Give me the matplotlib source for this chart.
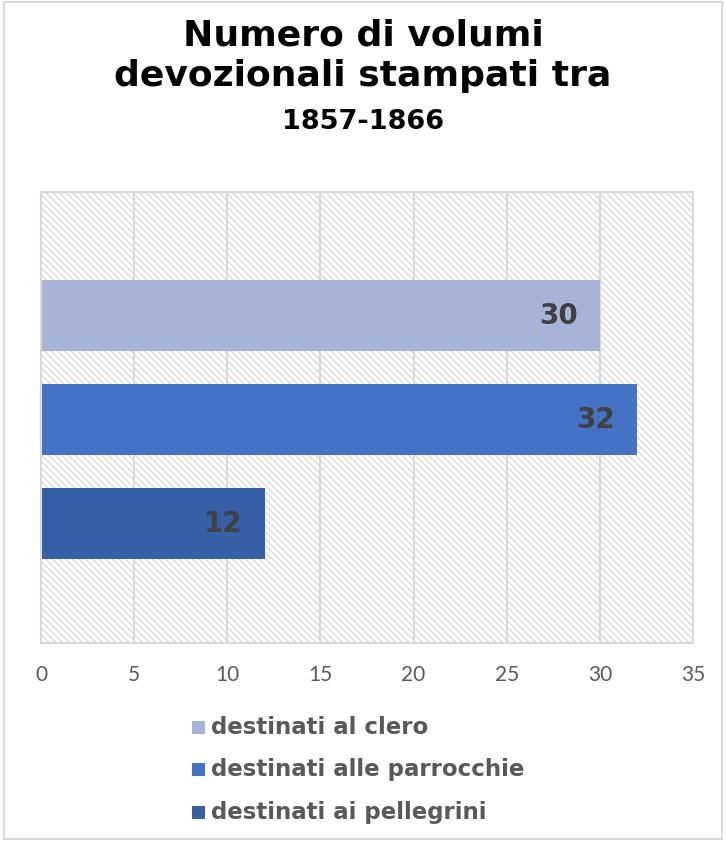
import matplotlib
matplotlib.use("Agg")
import matplotlib.pyplot as plt
from matplotlib.patches import Rectangle

series = ["destinati al clero", "destinati alle parrocchie", "destinati ai pellegrini"]
values = [30, 32, 12]
colors = ["#A7B4D8", "#4472C4", "#365FA5"]
xticks = [0, 5, 10, 15, 20, 25, 30, 35]

plt.rcParams["font.family"] = ["DejaVu Sans"]
plt.rcParams["hatch.linewidth"] = 1.0
TICKFONT = ["Lato", "DejaVu Sans"]

W, H = 726, 843
fig = plt.figure(figsize=(W / 100, H / 100), dpi=100)
fig.patches.append(Rectangle((4 / W, 4 / H), 1 - 8 / W, 1 - 6 / H, transform=fig.transFigure,
                             fill=False, edgecolor="#d9d9d9", linewidth=1.5))

ax = fig.add_axes([41 / W, 1 - 643 / H, (693 - 41) / W, (643 - 192) / H])

# hatched plot background
ax.add_patch(Rectangle((0, 0), 1, 1, transform=ax.transAxes, facecolor="white",
                       edgecolor="#dadada", hatch="\\\\\\\\\\", linewidth=0, zorder=0))
ax.set_xlim(0, 35)
ax.set_ylim(2 + 1.149, -1.1875)
for x in xticks:
    ax.axvline(x, color="#d9d9d9", linewidth=1.5, zorder=1)

ypos = list(range(len(values)))
bars = ax.barh(ypos, values, height=0.683, color=colors, zorder=2)
for b, v in zip(bars, values):
    ax.text(v - 1.2, b.get_y() + b.get_height() / 2, str(v), ha="right", va="center",
            fontsize=20, fontweight="bold", color="#404040", zorder=3)

for s in ax.spines.values():
    s.set_color("#d9d9d9")
    s.set_linewidth(1.5)
ax.set_xticks(xticks)
ax.set_xticklabels([str(t) for t in xticks], family=TICKFONT)
ax.set_yticks([])
ax.tick_params(axis="x", length=0, labelsize=15, labelcolor="#595959", pad=16)

fig.text(0.5, 1 - 35 / H, "Numero di volumi", ha="center", va="center",
         fontsize=26, fontweight="bold", color="black")
fig.text(0.5, 1 - 76 / H, "devozionali stampati tra", ha="center", va="center",
         fontsize=26, fontweight="bold", color="black")
fig.text(0.5, 1 - 122 / H, "1857-1866", ha="center", va="center",
         fontsize=19.5, fontweight="bold", color="black")

# legend drawn as square marker plus label per series
for i, (name, c) in enumerate(zip(series, colors)):
    y = 1 - (727 + i * 42.5) / H
    fig.patches.append(Rectangle((192 / W, y - 6.5 / H), 13 / W, 13 / H,
                                 transform=fig.transFigure, facecolor=c, edgecolor="none"))
    fig.text(211 / W, y, name, ha="left", va="center", fontsize=16.5,
             fontweight="bold", color="#595959")

fig.savefig("out.png", dpi=100)
